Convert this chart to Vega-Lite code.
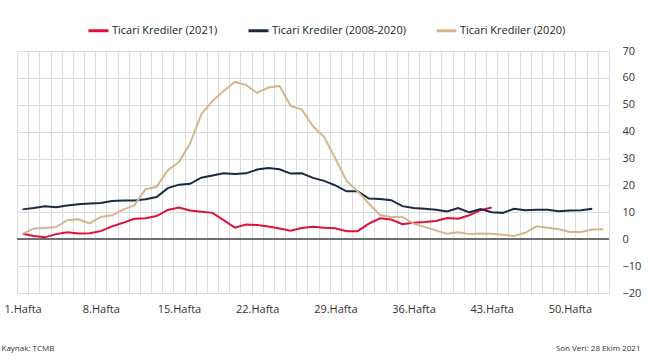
{
  "$schema": "https://vega.github.io/schema/vega-lite/v6.json",
  "width": 592,
  "height": 242,
  "autosize": "none",
  "padding": {"left": 17, "top": 51, "right": 41, "bottom": 67},
  "background": "white",
  "config": {"view": {"stroke": null}, "font": "Open Sans"},
  "data": {"values": [
    {"hafta":1,"seri":"Ticari Krediler (2021)","deger":2.0},
    {"hafta":2,"seri":"Ticari Krediler (2021)","deger":1.2},
    {"hafta":3,"seri":"Ticari Krediler (2021)","deger":0.7},
    {"hafta":4,"seri":"Ticari Krediler (2021)","deger":1.9},
    {"hafta":5,"seri":"Ticari Krediler (2021)","deger":2.6},
    {"hafta":6,"seri":"Ticari Krediler (2021)","deger":2.1},
    {"hafta":7,"seri":"Ticari Krediler (2021)","deger":2.2},
    {"hafta":8,"seri":"Ticari Krediler (2021)","deger":3.0},
    {"hafta":9,"seri":"Ticari Krediler (2021)","deger":4.8},
    {"hafta":10,"seri":"Ticari Krediler (2021)","deger":6.1},
    {"hafta":11,"seri":"Ticari Krediler (2021)","deger":7.6},
    {"hafta":12,"seri":"Ticari Krediler (2021)","deger":7.8},
    {"hafta":13,"seri":"Ticari Krediler (2021)","deger":8.6},
    {"hafta":14,"seri":"Ticari Krediler (2021)","deger":10.9},
    {"hafta":15,"seri":"Ticari Krediler (2021)","deger":11.8},
    {"hafta":16,"seri":"Ticari Krediler (2021)","deger":10.7},
    {"hafta":17,"seri":"Ticari Krediler (2021)","deger":10.2},
    {"hafta":18,"seri":"Ticari Krediler (2021)","deger":9.8},
    {"hafta":19,"seri":"Ticari Krediler (2021)","deger":7.1},
    {"hafta":20,"seri":"Ticari Krediler (2021)","deger":4.3},
    {"hafta":21,"seri":"Ticari Krediler (2021)","deger":5.5},
    {"hafta":22,"seri":"Ticari Krediler (2021)","deger":5.3},
    {"hafta":23,"seri":"Ticari Krediler (2021)","deger":4.7},
    {"hafta":24,"seri":"Ticari Krediler (2021)","deger":4.0},
    {"hafta":25,"seri":"Ticari Krediler (2021)","deger":3.2},
    {"hafta":26,"seri":"Ticari Krediler (2021)","deger":4.2},
    {"hafta":27,"seri":"Ticari Krediler (2021)","deger":4.6},
    {"hafta":28,"seri":"Ticari Krediler (2021)","deger":4.3},
    {"hafta":29,"seri":"Ticari Krediler (2021)","deger":4.1},
    {"hafta":30,"seri":"Ticari Krediler (2021)","deger":3.0},
    {"hafta":31,"seri":"Ticari Krediler (2021)","deger":3.0},
    {"hafta":32,"seri":"Ticari Krediler (2021)","deger":5.8},
    {"hafta":33,"seri":"Ticari Krediler (2021)","deger":7.8},
    {"hafta":34,"seri":"Ticari Krediler (2021)","deger":7.3},
    {"hafta":35,"seri":"Ticari Krediler (2021)","deger":5.6},
    {"hafta":36,"seri":"Ticari Krediler (2021)","deger":6.1},
    {"hafta":37,"seri":"Ticari Krediler (2021)","deger":6.4},
    {"hafta":38,"seri":"Ticari Krediler (2021)","deger":6.8},
    {"hafta":39,"seri":"Ticari Krediler (2021)","deger":7.9},
    {"hafta":40,"seri":"Ticari Krediler (2021)","deger":7.6},
    {"hafta":41,"seri":"Ticari Krediler (2021)","deger":8.9},
    {"hafta":42,"seri":"Ticari Krediler (2021)","deger":10.8},
    {"hafta":43,"seri":"Ticari Krediler (2021)","deger":11.8},
    {"hafta":1,"seri":"Ticari Krediler (2008-2020)","deger":11.1},
    {"hafta":2,"seri":"Ticari Krediler (2008-2020)","deger":11.6},
    {"hafta":3,"seri":"Ticari Krediler (2008-2020)","deger":12.3},
    {"hafta":4,"seri":"Ticari Krediler (2008-2020)","deger":11.9},
    {"hafta":5,"seri":"Ticari Krediler (2008-2020)","deger":12.5},
    {"hafta":6,"seri":"Ticari Krediler (2008-2020)","deger":13.0},
    {"hafta":7,"seri":"Ticari Krediler (2008-2020)","deger":13.3},
    {"hafta":8,"seri":"Ticari Krediler (2008-2020)","deger":13.5},
    {"hafta":9,"seri":"Ticari Krediler (2008-2020)","deger":14.2},
    {"hafta":10,"seri":"Ticari Krediler (2008-2020)","deger":14.4},
    {"hafta":11,"seri":"Ticari Krediler (2008-2020)","deger":14.4},
    {"hafta":12,"seri":"Ticari Krediler (2008-2020)","deger":14.9},
    {"hafta":13,"seri":"Ticari Krediler (2008-2020)","deger":15.7},
    {"hafta":14,"seri":"Ticari Krediler (2008-2020)","deger":19.0},
    {"hafta":15,"seri":"Ticari Krediler (2008-2020)","deger":20.3},
    {"hafta":16,"seri":"Ticari Krediler (2008-2020)","deger":20.6},
    {"hafta":17,"seri":"Ticari Krediler (2008-2020)","deger":22.9},
    {"hafta":18,"seri":"Ticari Krediler (2008-2020)","deger":23.7},
    {"hafta":19,"seri":"Ticari Krediler (2008-2020)","deger":24.5},
    {"hafta":20,"seri":"Ticari Krediler (2008-2020)","deger":24.3},
    {"hafta":21,"seri":"Ticari Krediler (2008-2020)","deger":24.5},
    {"hafta":22,"seri":"Ticari Krediler (2008-2020)","deger":25.9},
    {"hafta":23,"seri":"Ticari Krediler (2008-2020)","deger":26.5},
    {"hafta":24,"seri":"Ticari Krediler (2008-2020)","deger":26.0},
    {"hafta":25,"seri":"Ticari Krediler (2008-2020)","deger":24.4},
    {"hafta":26,"seri":"Ticari Krediler (2008-2020)","deger":24.5},
    {"hafta":27,"seri":"Ticari Krediler (2008-2020)","deger":22.8},
    {"hafta":28,"seri":"Ticari Krediler (2008-2020)","deger":21.7},
    {"hafta":29,"seri":"Ticari Krediler (2008-2020)","deger":20.0},
    {"hafta":30,"seri":"Ticari Krediler (2008-2020)","deger":17.8},
    {"hafta":31,"seri":"Ticari Krediler (2008-2020)","deger":17.8},
    {"hafta":32,"seri":"Ticari Krediler (2008-2020)","deger":15.1},
    {"hafta":33,"seri":"Ticari Krediler (2008-2020)","deger":15.0},
    {"hafta":34,"seri":"Ticari Krediler (2008-2020)","deger":14.5},
    {"hafta":35,"seri":"Ticari Krediler (2008-2020)","deger":12.3},
    {"hafta":36,"seri":"Ticari Krediler (2008-2020)","deger":11.6},
    {"hafta":37,"seri":"Ticari Krediler (2008-2020)","deger":11.3},
    {"hafta":38,"seri":"Ticari Krediler (2008-2020)","deger":11.0},
    {"hafta":39,"seri":"Ticari Krediler (2008-2020)","deger":10.3},
    {"hafta":40,"seri":"Ticari Krediler (2008-2020)","deger":11.6},
    {"hafta":41,"seri":"Ticari Krediler (2008-2020)","deger":10.0},
    {"hafta":42,"seri":"Ticari Krediler (2008-2020)","deger":11.2},
    {"hafta":43,"seri":"Ticari Krediler (2008-2020)","deger":10.0},
    {"hafta":44,"seri":"Ticari Krediler (2008-2020)","deger":9.8},
    {"hafta":45,"seri":"Ticari Krediler (2008-2020)","deger":11.3},
    {"hafta":46,"seri":"Ticari Krediler (2008-2020)","deger":10.8},
    {"hafta":47,"seri":"Ticari Krediler (2008-2020)","deger":11.0},
    {"hafta":48,"seri":"Ticari Krediler (2008-2020)","deger":11.0},
    {"hafta":49,"seri":"Ticari Krediler (2008-2020)","deger":10.4},
    {"hafta":50,"seri":"Ticari Krediler (2008-2020)","deger":10.7},
    {"hafta":51,"seri":"Ticari Krediler (2008-2020)","deger":10.8},
    {"hafta":52,"seri":"Ticari Krediler (2008-2020)","deger":11.3},
    {"hafta":1,"seri":"Ticari Krediler (2020)","deger":2.0},
    {"hafta":2,"seri":"Ticari Krediler (2020)","deger":4.0},
    {"hafta":3,"seri":"Ticari Krediler (2020)","deger":4.2},
    {"hafta":4,"seri":"Ticari Krediler (2020)","deger":4.5},
    {"hafta":5,"seri":"Ticari Krediler (2020)","deger":7.1},
    {"hafta":6,"seri":"Ticari Krediler (2020)","deger":7.4},
    {"hafta":7,"seri":"Ticari Krediler (2020)","deger":5.9},
    {"hafta":8,"seri":"Ticari Krediler (2020)","deger":8.3},
    {"hafta":9,"seri":"Ticari Krediler (2020)","deger":8.9},
    {"hafta":10,"seri":"Ticari Krediler (2020)","deger":11.0},
    {"hafta":11,"seri":"Ticari Krediler (2020)","deger":12.6},
    {"hafta":12,"seri":"Ticari Krediler (2020)","deger":18.6},
    {"hafta":13,"seri":"Ticari Krediler (2020)","deger":19.5},
    {"hafta":14,"seri":"Ticari Krediler (2020)","deger":25.7},
    {"hafta":15,"seri":"Ticari Krediler (2020)","deger":28.7},
    {"hafta":16,"seri":"Ticari Krediler (2020)","deger":35.6},
    {"hafta":17,"seri":"Ticari Krediler (2020)","deger":46.5},
    {"hafta":18,"seri":"Ticari Krediler (2020)","deger":51.4},
    {"hafta":19,"seri":"Ticari Krediler (2020)","deger":55.1},
    {"hafta":20,"seri":"Ticari Krediler (2020)","deger":58.5},
    {"hafta":21,"seri":"Ticari Krediler (2020)","deger":57.4},
    {"hafta":22,"seri":"Ticari Krediler (2020)","deger":54.4},
    {"hafta":23,"seri":"Ticari Krediler (2020)","deger":56.4},
    {"hafta":24,"seri":"Ticari Krediler (2020)","deger":57.0},
    {"hafta":25,"seri":"Ticari Krediler (2020)","deger":49.6},
    {"hafta":26,"seri":"Ticari Krediler (2020)","deger":48.2},
    {"hafta":27,"seri":"Ticari Krediler (2020)","deger":42.0},
    {"hafta":28,"seri":"Ticari Krediler (2020)","deger":38.0},
    {"hafta":29,"seri":"Ticari Krediler (2020)","deger":30.0},
    {"hafta":30,"seri":"Ticari Krediler (2020)","deger":21.7},
    {"hafta":31,"seri":"Ticari Krediler (2020)","deger":17.8},
    {"hafta":32,"seri":"Ticari Krediler (2020)","deger":13.3},
    {"hafta":33,"seri":"Ticari Krediler (2020)","deger":9.0},
    {"hafta":34,"seri":"Ticari Krediler (2020)","deger":8.3},
    {"hafta":35,"seri":"Ticari Krediler (2020)","deger":8.3},
    {"hafta":36,"seri":"Ticari Krediler (2020)","deger":5.8},
    {"hafta":37,"seri":"Ticari Krediler (2020)","deger":4.6},
    {"hafta":38,"seri":"Ticari Krediler (2020)","deger":3.3},
    {"hafta":39,"seri":"Ticari Krediler (2020)","deger":2.0},
    {"hafta":40,"seri":"Ticari Krediler (2020)","deger":2.6},
    {"hafta":41,"seri":"Ticari Krediler (2020)","deger":1.9},
    {"hafta":42,"seri":"Ticari Krediler (2020)","deger":2.1},
    {"hafta":43,"seri":"Ticari Krediler (2020)","deger":2.0},
    {"hafta":44,"seri":"Ticari Krediler (2020)","deger":1.7},
    {"hafta":45,"seri":"Ticari Krediler (2020)","deger":1.2},
    {"hafta":46,"seri":"Ticari Krediler (2020)","deger":2.4},
    {"hafta":47,"seri":"Ticari Krediler (2020)","deger":4.8},
    {"hafta":48,"seri":"Ticari Krediler (2020)","deger":4.3},
    {"hafta":49,"seri":"Ticari Krediler (2020)","deger":3.7},
    {"hafta":50,"seri":"Ticari Krediler (2020)","deger":2.7},
    {"hafta":51,"seri":"Ticari Krediler (2020)","deger":2.7},
    {"hafta":52,"seri":"Ticari Krediler (2020)","deger":3.6},
    {"hafta":53,"seri":"Ticari Krediler (2020)","deger":3.7}
  ]},
  "encoding": {
    "x": {
      "field": "hafta", "type": "quantitative",
      "scale": {"domain": [0.5, 53.5], "nice": false, "zero": false},
      "axis": {
        "values": [0.5,1.5,2.5,3.5,4.5,5.5,6.5,7.5,8.5,9.5,10.5,11.5,12.5,13.5,14.5,15.5,16.5,17.5,18.5,19.5,20.5,21.5,22.5,23.5,24.5,25.5,26.5,27.5,28.5,29.5,30.5,31.5,32.5,33.5,34.5,35.5,36.5,37.5,38.5,39.5,40.5,41.5,42.5,43.5,44.5,45.5,46.5,47.5,48.5,49.5,50.5,51.5,52.5,53.5],
        "labelExpr": "indexof([0.5,7.5,14.5,21.5,28.5,35.5,42.5,49.5], datum.value) >= 0 ? (datum.value + 0.5) + '.Hafta' : ''",
        "labelOffset": 5.6,
        "labelAlign": "center",
        "labelFlush": false,
        "labelOverlap": false,
        "labelBound": false,
        "labelFontSize": 11,
        "labelColor": "#333333",
        "labelPadding": 10,
        "grid": true,
        "gridColor": "#dcdcdc",
        "domain": false,
        "ticks": false,
        "title": "Kaynak: TCMB",
        "titleFontSize": 8,
        "titleFontWeight": "normal",
        "titleColor": "#333333",
        "titleAlign": "left",
        "titleAnchor": "start",
        "titleBaseline": "middle",
        "titleX": -16,
        "titleY": 55
      }
    },
    "y": {
      "field": "deger", "type": "quantitative",
      "scale": {"domain": [-20, 70], "nice": false},
      "axis": {
        "orient": "right",
        "values": [-20,-10,0,10,20,30,40,50,60,70],
        "grid": true,
        "gridColor": "#dcdcdc",
        "domain": false,
        "ticks": false,
        "labelPadding": 13,
        "labelFontSize": 11,
        "labelColor": "#333333",
        "title": "Son Veri: 28 Ekim 2021",
        "titleAngle": 0,
        "titleFontSize": 8,
        "titleFontWeight": "normal",
        "titleColor": "#333333",
        "titleAlign": "right",
        "titleBaseline": "middle",
        "titleX": 31,
        "titleY": 297
      }
    }
  },
  "layer": [
    {
      "mark": {"type": "rule", "color": "#6e6e6e", "strokeWidth": 1.5},
      "encoding": {"y": {"datum": 0}, "x": null}
    },
    {
      "mark": {"type": "line", "strokeWidth": 2},
      "encoding": {
        "color": {
          "field": "seri", "type": "nominal",
          "scale": {
            "domain": ["Ticari Krediler (2021)", "Ticari Krediler (2008-2020)", "Ticari Krediler (2020)"],
            "range": ["#e0103a", "#1b2a40", "#d4b68f"]
          },
          "legend": {
            "orient": "none",
            "legendX": 70,
            "legendY": -32,
            "direction": "horizontal",
            "title": null,
            "symbolType": "stroke",
            "symbolSize": 400,
            "symbolStrokeWidth": 3,
            "labelFontSize": 11,
            "labelColor": "#222222",
            "labelOffset": 2,
            "columnPadding": 24
          }
        }
      }
    }
  ]
}
